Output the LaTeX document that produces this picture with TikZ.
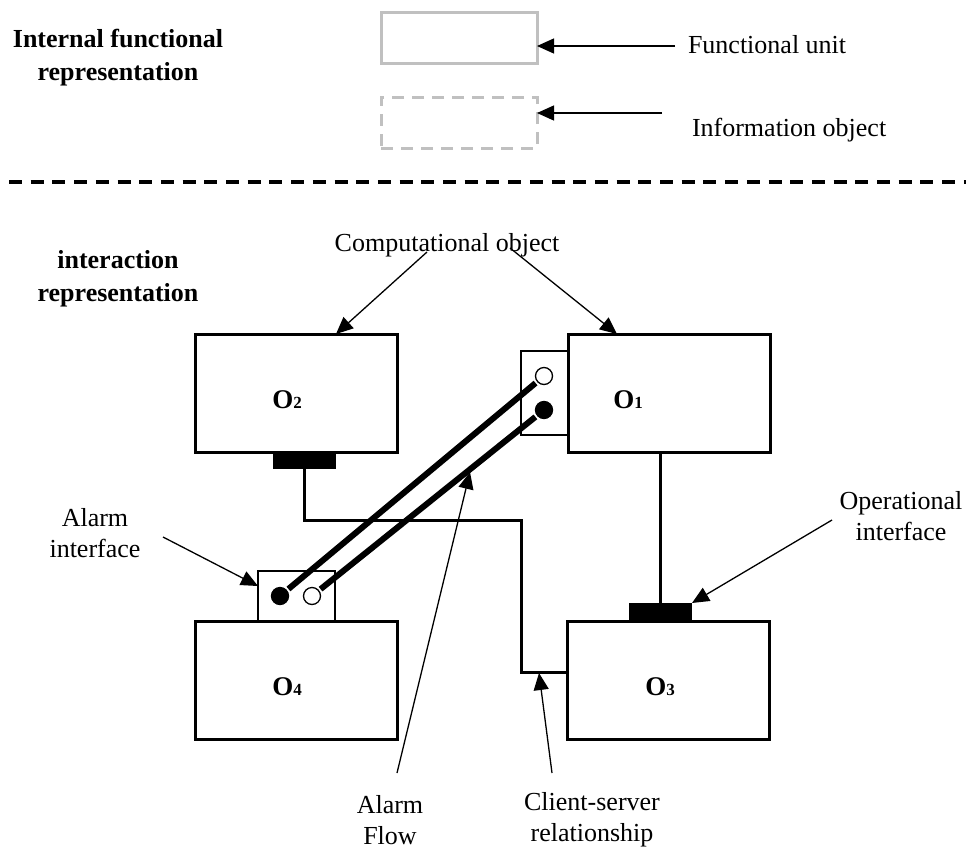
\documentclass[tikz,border=0pt]{standalone}
\usepackage{fontspec}
\setmainfont{Liberation Serif}
\usetikzlibrary{arrows.meta}
\definecolor{legendgray}{RGB}{192,192,192}
\begin{document}
\begin{tikzpicture}[x=1pt,y=-1pt,
  every node/.style={inner sep=0pt, outer sep=0pt},
  txt/.style={font=\fontsize{26}{31}\selectfont, align=center},
  btxt/.style={font=\fontsize{26}{33}\selectfont\bfseries, align=center},
  lbl/.style={font=\fontsize{27}{30}\selectfont\bfseries},
  obj/.style={draw, line width=3pt, minimum width=202pt, minimum height=118pt},
  port/.style={fill=black, minimum width=63pt, minimum height=17pt},
  ibox/.style={draw, line width=1.3pt},
  opendot/.style={circle, draw, fill=white, line width=1.3pt, minimum size=17pt},
  fulldot/.style={circle, draw, fill=black, line width=1.3pt, minimum size=17pt},
  arr/.style={line width=1.3pt, -{Triangle[length=17pt,width=15pt]}},
  wire/.style={line width=3pt},
  flow/.style={line width=6pt, shorten <=2.5pt, shorten >=2.5pt},
  legbox/.style={draw=legendgray, line width=3pt, minimum width=156pt, minimum height=51pt}
]
\useasboundingbox (0,0) rectangle (966,849);

% ---------- legend ----------
\node[btxt] (t1) at (118,58) {Internal functional\\representation};
\node[legbox] (fu) at (459,37.5) {};
\node[legbox, dash pattern=on 12pt off 8pt] (io) at (459,122.5) {};
\node[txt, anchor=west] (fun) at (688,45) {Functional unit};
\node[txt, anchor=west] (inf) at (692,130) {Information object};
\coordinate (fut) at (675,46);
\coordinate (iot) at (662,113);
\draw[arr] (fut) -- (fut -| fu.east);
\draw[arr] (iot) -- (iot -| io.east);

% ---------- separator ----------
\draw[line width=4pt, dash pattern=on 13pt off 8.7pt] (9,182) -- (966,182);

% ---------- interaction representation ----------
\node[btxt] (t2) at (118,279) {interaction\\representation};
\node[txt] (comp) at (447,245) {Computational object};

\node[obj] (O2) at (296,393) {};
\node[obj] (O1) at (669,393) {};
\node[obj] (O4) at (296,680) {};
\node[obj] (O3) at (668,680) {};

\node[lbl] (l2) at (287,400) {O{\fontsize{17}{17}\selectfont 2}};
\node[lbl] (l1) at (628,400) {O{\fontsize{17}{17}\selectfont 1}};
\node[lbl] (l4) at (287,687) {O{\fontsize{17}{17}\selectfont 4}};
\node[lbl] (l3) at (660,687) {O{\fontsize{17}{17}\selectfont 3}};

% operational interfaces
\node[port] (p2) at (304.5,460.5) {};
\node[port, minimum height=18pt] (p3) at (660.5,612) {};

% alarm interfaces
\node[ibox, fill=white, minimum width=77pt, minimum height=50pt] (a4) at (296.5,596) {};
\node[ibox, fill=white, minimum width=47pt, minimum height=84pt] (a1) at (544.5,393) {};
\node[fulldot] (d4f) at (280,596) {};
\node[opendot] (d4o) at (312,596) {};
\node[opendot] (d1o) at (544,376) {};
\node[fulldot] (d1f) at (544,410) {};

% alarm flows
\draw[flow] (d4f) -- (d1o);
\draw[flow] (d4o) -- (d1f);

% client-server wires
\coordinate (cw1) at (521,520);
\coordinate (cw2) at (521,672);
\draw[wire] (p2.south) |- (cw1) -- (cw2) -- (cw2 -| O3.west);
\draw[wire] (p3.north) -- (p3.north |- O1.south);

% annotation texts
\node[txt] (ai) at (95,533) {Alarm\\interface};
\node[txt] (oi) at (901,516) {Operational\\interface};
\node[txt] (af) at (390,820) {Alarm\\Flow};
\node[txt] (cs) at (592,820) {Client-server\\relationship};

% annotation arrows
\coordinate (ca1) at (427,252);
\coordinate (ca2) at (510,248);
\draw[arr] (ca1) -- (O2.north -| 336,0);
\draw[arr] (ca2) -- (O1.north -| 617,0);

\coordinate (aia) at (163,537);
\draw[arr] (aia) -- (a4.west |- 0,586);

\coordinate (oia) at (832,520);
\draw[arr] (oia) -- (p3.north east);

\coordinate (afa) at (397,773);
\coordinate (aft) at (470,472);
\draw[arr] (afa) -- (aft);

\coordinate (csa) at (552,773);
\coordinate (cst) at (539,673);
\draw[arr] (csa) -- (cst);
\end{tikzpicture}
\end{document}
